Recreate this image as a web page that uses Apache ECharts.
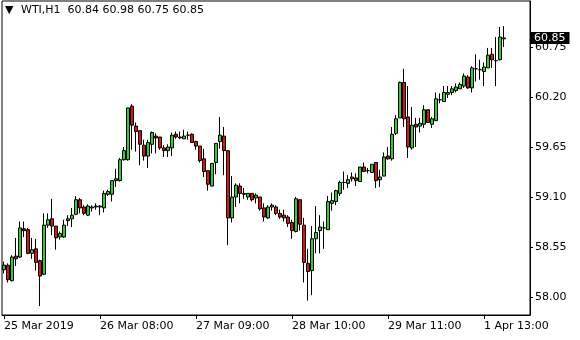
<!DOCTYPE html>
<html>
<head>
<meta charset="utf-8">
<script src="https://cdn.jsdelivr.net/npm/echarts@6/dist/echarts.min.js"></script>
<style>html,body{margin:0;padding:0;background:#fff}#c{width:580px;height:340px}</style>
</head>
<body>
<div id="c"></div>
<script>
const chartTitle = 'WTI,H1  60.84 60.98 60.75 60.85';
const tickIndex = [0, 24, 48, 72, 96, 120];
const tickLabels = ['25 Mar 2019', '26 Mar 08:00', '27 Mar 09:00', '28 Mar 10:00', '29 Mar 11:00', '1 Apr 13:00'];
const priceTicks = [58.00, 58.55, 59.10, 59.65, 60.20, 60.75];
const lastPrice = 60.85;
const slotCount = 132;

const opens = [58.30,58.35,58.18,58.45,58.44,58.75,58.74,58.48,58.53,58.40,
58.25,58.79,58.86,58.78,58.66,58.66,58.84,58.86,58.91,59.07,
58.99,58.90,58.98,58.99,58.99,58.98,59.13,59.13,59.28,59.28,
59.51,59.51,60.10,59.88,59.83,59.67,59.55,59.68,59.77,59.76,
59.64,59.61,59.64,59.79,59.76,59.74,59.78,59.79,59.71,59.66,
59.52,59.39,59.22,59.48,59.71,59.77,59.61,58.87,59.10,59.22,
59.14,59.10,59.14,59.09,59.10,58.98,58.87,58.99,58.99,58.92,
58.90,58.88,58.82,58.72,59.07,58.79,58.37,58.29,58.64,58.73,
58.76,58.74,59.03,59.05,59.14,59.26,59.25,59.30,59.31,59.27,
59.43,59.39,59.37,59.48,59.29,59.33,59.55,59.52,59.80,59.97,
60.36,59.98,59.64,59.90,59.88,59.90,60.06,59.90,59.94,60.17,
60.15,60.23,60.25,60.27,60.29,60.32,60.42,60.30,60.51,60.50,
60.48,60.52,60.67,60.60,60.61,60.84];
const closes = [58.35,58.19,58.44,58.42,58.76,58.73,58.48,58.52,58.38,58.23,
58.79,58.85,58.78,58.65,58.70,58.79,58.86,58.90,59.07,58.98,
58.92,59.00,58.99,59.00,59.00,59.14,59.16,59.28,59.30,59.51,
59.61,60.08,59.89,59.82,59.68,59.55,59.70,59.81,59.75,59.64,
59.61,59.65,59.78,59.76,59.75,59.77,59.78,59.70,59.66,59.50,
59.38,59.24,59.47,59.69,59.78,59.61,58.87,59.10,59.23,59.14,
59.13,59.14,59.07,59.12,58.97,58.88,58.99,59.01,58.92,58.88,
58.87,58.81,58.73,59.08,58.80,58.38,58.28,58.64,58.71,58.77,
58.76,59.05,59.06,59.17,59.26,59.26,59.29,59.32,59.28,59.43,
59.38,59.39,59.46,59.28,59.32,59.54,59.52,59.79,59.96,60.36,
59.96,59.65,59.89,59.87,59.91,60.06,59.92,59.96,60.18,60.17,
60.25,60.25,60.29,60.31,60.34,60.43,60.30,60.52,60.51,60.50,
60.53,60.66,60.61,60.60,60.86,60.85];
const highs = [58.39,58.37,58.46,58.65,58.83,58.83,58.76,58.65,58.64,58.41,
58.92,58.92,59.08,58.78,58.72,58.85,58.90,58.98,59.11,59.09,
59.01,59.02,59.01,59.03,59.01,59.17,59.18,59.28,59.41,59.53,
59.65,60.08,60.12,59.92,59.83,59.73,59.73,59.82,59.80,59.76,
59.67,59.68,59.81,59.82,59.82,59.84,59.82,59.80,59.72,59.66,
59.63,59.39,59.47,59.69,59.98,59.87,59.61,59.33,59.25,59.25,
59.20,59.14,59.14,59.14,59.10,59.03,59.01,59.03,59.01,58.96,
58.96,58.90,58.85,59.10,59.07,58.87,58.53,58.78,59.00,58.90,
58.83,59.11,59.15,59.18,59.28,59.38,59.34,59.37,59.36,59.43,
59.48,59.42,59.46,59.48,59.40,59.59,59.65,59.87,60.00,60.37,
60.51,60.32,60.09,59.97,59.97,60.11,60.06,59.98,60.25,60.24,
60.32,60.32,60.32,60.35,60.36,60.46,60.44,60.54,60.67,60.61,
60.58,60.74,60.74,60.86,60.97,60.98];
const lows = [58.26,58.16,58.17,58.34,58.43,58.66,58.47,58.42,58.29,57.90,
58.24,58.76,58.68,58.52,58.63,58.65,58.78,58.77,58.90,58.92,
58.90,58.89,58.94,58.96,58.90,58.93,59.11,59.05,59.21,59.27,
59.50,59.50,59.62,59.60,59.45,59.50,59.42,59.58,59.58,59.62,
59.54,59.54,59.55,59.74,59.74,59.74,59.73,59.70,59.62,59.48,
59.32,59.17,59.22,59.35,59.63,59.34,58.57,58.82,58.99,59.03,
59.08,59.07,59.05,59.03,58.95,58.83,58.86,58.95,58.90,58.86,
58.83,58.77,58.64,58.71,58.73,58.16,57.96,58.02,58.48,58.48,
58.53,58.74,58.95,59.01,59.11,59.18,59.20,59.27,59.22,59.27,
59.38,59.36,59.37,59.20,59.21,59.33,59.51,59.50,59.78,59.97,
59.87,59.53,59.62,59.65,59.81,59.86,59.92,59.86,59.94,60.13,
60.15,60.19,60.22,60.25,60.29,60.30,60.29,60.25,60.37,60.39,
60.32,60.52,60.52,60.32,60.60,60.75];

const categories = Array.from({length: slotCount}, (_, i) => String(i));
const candleData = opens.map((o, i) => [o, closes[i], lows[i], highs[i]]);
const FONT = 'DejaVu Sans';

const chart = echarts.init(document.getElementById('c'), null, {renderer: 'canvas'});
chart.setOption({
  animation: false,
  backgroundColor: '#ffffff',
  grid: {left: 2, right: 50, top: 1, bottom: 25, show: true, borderColor: '#000', borderWidth: 1, backgroundColor: 'transparent'},
  graphic: [
    {type: 'text', left: 5, top: 5, style: {text: '▼', fontSize: 11, fill: '#000', fontFamily: FONT}},
    {type: 'text', left: 21, top: 5, style: {text: chartTitle, fontSize: 11, fill: '#000', fontFamily: FONT}}
  ],
  xAxis: {
    type: 'category',
    data: categories,
    boundaryGap: true,
    axisLine: {show: true, lineStyle: {color: '#000', width: 1}},
    axisTick: {show: true, length: 4, alignWithLabel: true, interval: (idx) => tickIndex.includes(idx), lineStyle: {color: '#000'}},
    axisLabel: {
      show: true, margin: 6, align: 'left', color: '#000', fontSize: 11, fontFamily: FONT,
      interval: (idx) => tickIndex.includes(idx),
      formatter: (val, idx) => { const k = tickIndex.indexOf(idx); return k >= 0 ? tickLabels[k] : ''; }
    },
    splitLine: {show: false}
  },
  yAxis: {
    type: 'value',
    position: 'right',
    min: 57.802,
    max: 61.256,
    scale: true,
    axisLine: {show: true, lineStyle: {color: '#000', width: 1}},
    axisTick: {show: true, length: 3, customValues: priceTicks, lineStyle: {color: '#000'}},
    axisLabel: {show: true, margin: 5, color: '#000', fontSize: 11, fontFamily: FONT, customValues: priceTicks,
      formatter: (v) => v.toFixed(2)},
    splitLine: {show: false}
  },
  series: [{
    type: 'candlestick',
    data: candleData,
    barWidth: 3,
    itemStyle: {color: '#32cd32', color0: '#dd1111', borderColor: '#000', borderColor0: '#000', borderColorDoji: '#000', borderWidth: 1},
    markLine: {
      silent: true,
      symbol: ['none', 'none'],
      lineStyle: {color: 'rgba(0,0,0,0)', width: 1, type: 'solid'},
      data: [{yAxis: lastPrice}],
      label: {show: true, position: 'end', distance: 1, formatter: lastPrice.toFixed(2), color: '#fff', backgroundColor: '#000',
        fontSize: 11, fontFamily: FONT, padding: [1, 4, 0, 3]}
    }
  }]
});
</script>
</body>
</html>
